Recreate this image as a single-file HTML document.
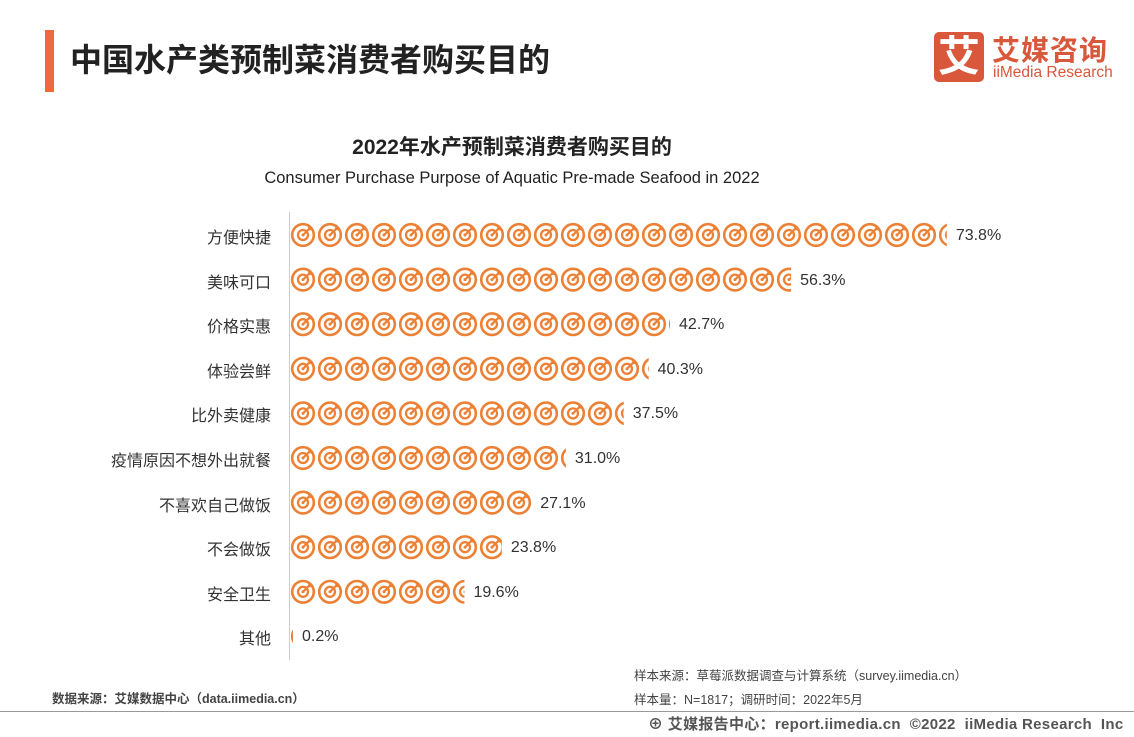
<!DOCTYPE html>
<html><head><meta charset="utf-8"><style>
body{margin:0;width:1134px;height:737px;background:#fff;font-family:"Liberation Sans","Noto Sans CJK SC",sans-serif;position:relative;overflow:hidden;color:#333}
.a{position:absolute;white-space:nowrap}
</style></head><body>
<div class="a" style="left:45px;top:30px;width:9px;height:62px;background:#ee6a3a"></div>
<div class="a" style="left:70px;top:35px;font-size:32px;font-weight:bold;color:#222">中国水产类预制菜消费者购买目的</div>
<div class="a" style="left:934px;top:32px;width:50px;height:50px;background:#d9573a;border-radius:5px;color:#fff;font-size:42px;font-weight:bold;text-align:center;line-height:50px">艾</div>
<div class="a" style="left:992px;top:29px;font-size:28px;font-weight:bold;color:#d9573a;letter-spacing:1px">艾媒咨询</div>
<div class="a" style="left:993px;top:64px;font-size:15.5px;color:#d9573a">iiMedia Research</div>
<div class="a" style="left:0;width:1024px;text-align:center;top:131px;font-size:21px;font-weight:bold;color:#222">2022年水产预制菜消费者购买目的</div>
<div class="a" style="left:0;width:1024px;text-align:center;top:169px;font-size:16.5px;color:#222">Consumer Purchase Purpose of Aquatic Pre-made Seafood in 2022</div>
<svg class="a" style="left:0;top:0" width="1134" height="737">
<defs>
<symbol id="ic" viewBox="0 0 27 27">
<circle cx="13" cy="14" r="10.8" fill="none" stroke="#ec8136" stroke-width="2.6"/>
<circle cx="13" cy="14" r="5" fill="none" stroke="#ec8136" stroke-width="2.3"/>
<circle cx="13" cy="14" r="1.5" fill="#ec8136"/>
<path d="M13 14 L21 6 M19 4.5 L19.5 8 L23 8.5" fill="none" stroke="#ec8136" stroke-width="2.2"/>
</symbol>
</defs>
<line x1="289.5" y1="212" x2="289.5" y2="660" stroke="#ccc" stroke-width="1"/>
<g id="rows"></g>
</svg>
<div id="r"></div>
<script>
var d=[["方便快捷",73.8],["美味可口",56.3],["价格实惠",42.7],["体验尝鲜",40.3],["比外卖健康",37.5],["疫情原因不想外出就餐",31.0],["不喜欢自己做饭",27.1],["不会做饭",23.8],["安全卫生",19.6],["其他",0.2]];
var s="",h="";
d.forEach(function(e,i){var cy=235+i*44.6;var w=Math.max(e[1]*8.9,3);
for(var k=0;k*27<w;k++){s+='<svg x="'+(290+k*27)+'" y="'+(cy-14)+'" width="'+Math.min(27,w-k*27)+'" height="27" viewBox="0 0 '+Math.min(27,w-k*27)+' 27"><use href="#ic" width="27" height="27"/></svg>';}
h+='<div class="a" style="right:'+(1134-271)+'px;top:'+(cy-11)+'px;font-size:16px">'+e[0]+'</div>';
h+='<div class="a" style="left:'+(290+w+9)+'px;top:'+(cy-8)+'px;font-size:16px">'+e[1].toFixed(1)+'%</div>';});
document.getElementById("rows").innerHTML=s;document.getElementById("r").innerHTML=h;
</script>
<div class="a" style="left:634px;top:665px;font-size:12.5px;color:#444">样本来源：草莓派数据调查与计算系统（survey.iimedia.cn）</div>
<div class="a" style="left:634px;top:689px;font-size:12.5px;color:#444">样本量：N=1817；调研时间：2022年5月</div>
<div class="a" style="left:52px;top:688px;font-size:12.5px;color:#444;font-weight:bold">数据来源：艾媒数据中心（data.iimedia.cn）</div>
<div class="a" style="left:0;top:711px;width:1134px;height:1px;background:#999"></div>
<div class="a" style="left:648px;top:713px;font-size:15px;color:#555;font-weight:bold;letter-spacing:0.3px">⊕ 艾媒报告中心：report.iimedia.cn &nbsp;©2022 &nbsp;iiMedia Research &nbsp;Inc</div>
</body></html>
